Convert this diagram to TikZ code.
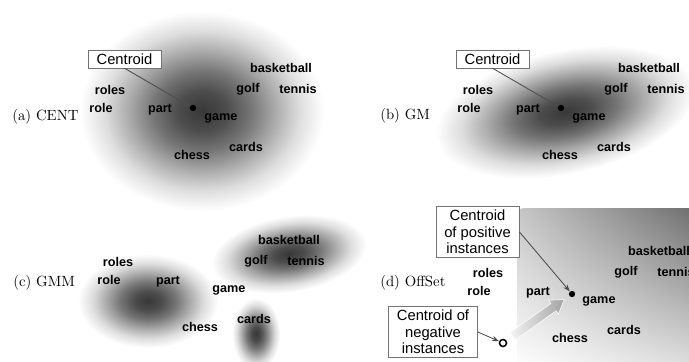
\documentclass[tikz,border=0pt]{standalone}
\usepackage{fontspec}
\setsansfont{Liberation Sans}
\usepackage{tikz}
\usetikzlibrary{shapes,arrows.meta,calc,positioning,shadings}
\colorlet{lcline}{black!70}
\colorlet{lcbox}{black!55}
% grey levels of the density blobs, dark core to white rim
\colorlet{gsa}{black!78}
\colorlet{gsb}{black!70}
\colorlet{gsc}{black!54}
\colorlet{gsd}{black!33}
\colorlet{gse}{black!13}
\pgfdeclareradialshading{gblob}{\pgfpoint{0bp}{0bp}}{%
  color(0bp)=(gsa); color(5bp)=(gsb); color(10bp)=(gsc);
  color(15bp)=(gsd); color(20bp)=(gse); color(25bp)=(white);
  color(50bp)=(white)}
% the same nine words sit in every panel
\newcommand{\wordcloud}{%
  \node [wd] (bask)   at (281,68)  {basketball};
  \node [wd] (golf)   at (248,89)  {golf};
  \node [wd] (tennis) at (298,89)  {tennis};
  \node [wd] (roles)  at (110,90)  {roles};
  \node [wd] (role)   at (101,108) {role};
  \node [wd] (part)   at (160,110) {part};
  \node [wd] (game)   at (221,118) {game};
  \node [wd] (cards)  at (246,147) {cards};
  \node [wd] (chess)  at (192,155) {chess};
}

\begin{document}
\begin{tikzpicture}[%
    >={Stealth[length=5pt,width=3.6pt]}, % small pointed tips
    x=0.025cm, y=-0.025cm] % one unit per pixel, y going down
% -------------------------------------------------
% Styles
\tikzset{
  wd/.style={inner sep=0pt, font={\sffamily\bfseries\fontsize{9}{10}\selectfont}},
  lbl/.style={anchor=west, inner sep=0pt, font={\fontsize{10.5}{12}\selectfont}},
  cbox/.style={draw=lcbox, fill=white, align=center, inner xsep=6pt,
    inner ysep=2.5pt, font={\sffamily\fontsize{10.5}{11.8}\selectfont}},
  cdot/.style={circle, fill=black, inner sep=0pt, minimum size=4.5pt},
  odot/.style={circle, draw=black, fill=white, line width=1.1pt,
    inner sep=0pt, minimum size=5pt},
  ptr/.style={->, draw=lcline, line width=0.6pt},
  blob/.style={shading=gblob}
}
\path [use as bounding box] (0,0) rectangle (689,361);
\clip (0,0) rectangle (689,361);

% -------------------------------------------------
% Background shadings first
\shade [upper left=black!22, upper right=black!58, lower left=white,
  lower right=black!12, rounded corners=5pt] (517,208) rectangle (700,370);
\shade [blob] (202,111) ellipse (122 and 100);
\begin{scope}[transform canvas={rotate around={12:(565,112)}}]
  \shade [blob] (565,112) ellipse (132 and 62);
\end{scope}
\shade [blob] (148,301) ellipse (70 and 47);
\shade [blob] (256,334) ellipse (24 and 36);
\begin{scope}[transform canvas={rotate around={9:(289,254)}}]
  \shade [blob] (289,254) ellipse (78 and 38);
\end{scope}

% -------------------------------------------------
% (a) one centroid
\begin{scope}[name prefix=a-]
  \wordcloud
  \node [lbl] (lbl) at (12,117) {(a) CENT};
  \node [cbox] (box) at (124.5,59) {Centroid};
  \node [cdot] (dot) at (193,108) {};
  \draw [ptr] (box.south) -- (dot);
\end{scope}

% (b) one gaussian
\begin{scope}[shift={(368,0)}, name prefix=b-]
  \wordcloud
  \node [lbl] (lbl) at (12,116) {(b) GM};
  \node [cbox] (box) at (124.5,59) {Centroid};
  \node [cdot] (dot) at (193,108) {};
  \draw [ptr] (box.south) -- (dot);
\end{scope}

% (c) mixture, no centroid
\begin{scope}[shift={(8,172)}, name prefix=c-]
  \wordcloud
  \node [lbl] (lbl) at (5,111) {(c) GMM};
\end{scope}

% (d) offset between the two centroids
\begin{scope}[shift={(378,183)}, name prefix=d-]
  \wordcloud
  \node [lbl] (lbl) at (2,100) {(d) OffSet};
  \node [cbox] (pbox) at (99.5,49) {Centroid\\of positive\\instances};
  \node [cbox] (nbox) at (55,149) {Centroid of\\negative\\instances};
  \node [cdot] (pos) at (194,111) {};
  \node [odot] (neg) at (125,160) {};
  \draw [ptr] (pbox.east) -- (pos);
  \draw [ptr] (nbox.east) -- (neg);
  % the fat grey shift arrow
  \begin{scope}[shift={(neg)}, rotate=35.4]
    \shade [left color=black!4, right color=black!36, draw=white]
      (12,-4.5) -- (62,-4.5) -- (62,-8.5) -- (75,0) -- (62,8.5)
      -- (62,4.5) -- (12,4.5) -- cycle;
  \end{scope}
\end{scope}
\end{tikzpicture}
\end{document}
